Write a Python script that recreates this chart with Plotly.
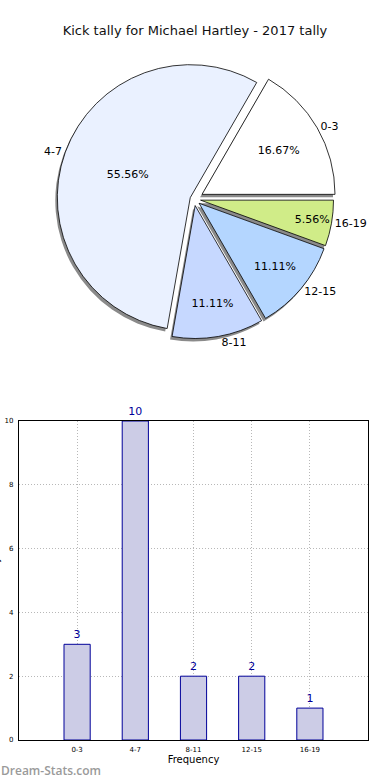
import plotly.graph_objects as go

categories = ["0-3", "4-7", "8-11", "12-15", "16-19"]
counts = [3, 10, 2, 2, 1]
pie_colors = ["#ffffff", "#eaf1ff", "#c6d8ff", "#b4d6ff", "#d0ec88"]
pulls = [0.07, 0.03, 0.05, 0.05, 0.05]
y_ticks = [0, 2, 4, 6, 8, 10]

W, H = 390, 780
FONT = "DejaVu Sans"

fig = go.Figure()

cx, cy, half = 195, 199, 143


def dom(dx=0, dy=0):
    return dict(x=[(cx - half + dx) / W, (cx + half + dx) / W],
                y=[(H - (cy + half + dy)) / H, (H - (cy - half + dy)) / H])


common = dict(labels=categories, values=counts, sort=False, direction="counterclockwise",
              rotation=30, pull=pulls, showlegend=False)

# shadow
fig.add_trace(go.Pie(
    **common, domain=dom(-2, 3),
    marker=dict(colors=["#8a8a8a"] * 5, line=dict(width=0)),
    textinfo="none", hoverinfo="skip",
))
# percentages inside
fig.add_trace(go.Pie(
    **common, domain=dom(),
    marker=dict(colors=pie_colors, line=dict(color="#000000", width=0.8)),
    texttemplate="%{percent:.2%}", textposition="inside", insidetextorientation="horizontal",
    textfont=dict(family=FONT, size=11, color="#000000"),
    hoverinfo="label+value",
))
# labels outside
fig.add_trace(go.Pie(
    **common, domain=dom(),
    marker=dict(colors=["rgba(0,0,0,0)"] * 5, line=dict(width=0)),
    texttemplate="%{label}", textposition="outside",
    textfont=dict(family=FONT, size=11, color="#000000"),
    hoverinfo="skip",
))

fig.add_trace(go.Bar(
    x=categories, y=counts, width=0.45,
    marker=dict(color="#ccccE6", line=dict(color="#000099", width=1)),
    text=[str(c) for c in counts], textposition="outside",
    textfont=dict(family=FONT, size=11, color="#000099"),
    cliponaxis=False, showlegend=False,
))

fig.update_layout(
    width=W, height=H, margin=dict(l=0, r=0, t=0, b=0),
    paper_bgcolor="white", plot_bgcolor="white",
    font=dict(family=FONT, color="#000000"),
    title=dict(text="Kick tally for Michael Hartley - 2017 tally", x=0.5, xanchor="center",
               y=1 - 30 / H, yanchor="middle", font=dict(family=FONT, size=13, color="#111111")),
    xaxis=dict(domain=[19 / W, 370 / W], range=[-1, 5], type="category", automargin=False,
               showline=True, linecolor="#000000", mirror=True, linewidth=1,
               showgrid=True, gridcolor="#b8b8b8", griddash="1px,2px", gridwidth=1,
               ticks="", ticklabelstandoff=3,
               tickfont=dict(size=7, family=FONT),
               title=dict(text="Frequency", font=dict(size=10, family=FONT), standoff=0),
               zeroline=False),
    yaxis=dict(domain=[(H - 740) / H, (H - 421) / H], range=[0, 10], tickvals=y_ticks,
               automargin=False,
               showline=True, linecolor="#000000", mirror=True, linewidth=1,
               showgrid=True, gridcolor="#b8b8b8", griddash="1px,2px", gridwidth=1,
               ticks="", ticklabelstandoff=3,
               tickfont=dict(size=7, family=FONT), zeroline=False),
    annotations=[
        dict(text="Dream-Stats.com", xref="paper", yref="paper", x=-0.003, y=(H - 770) / H,
             xanchor="left", yanchor="middle", showarrow=False,
             font=dict(family="Open Sans", size=12, color="#9a9a9a", weight=600)),
        dict(text="Kick Tally", xref="paper", yref="paper", x=-13 / W, y=(H - 580) / H,
             xanchor="left", yanchor="middle", showarrow=False, textangle=-90,
             font=dict(family=FONT, size=10, color="#000000")),
    ],
)

fig.write_html("out.html", config={"displayModeBar": False},
               post_script="document.body.style.margin='0px';")
